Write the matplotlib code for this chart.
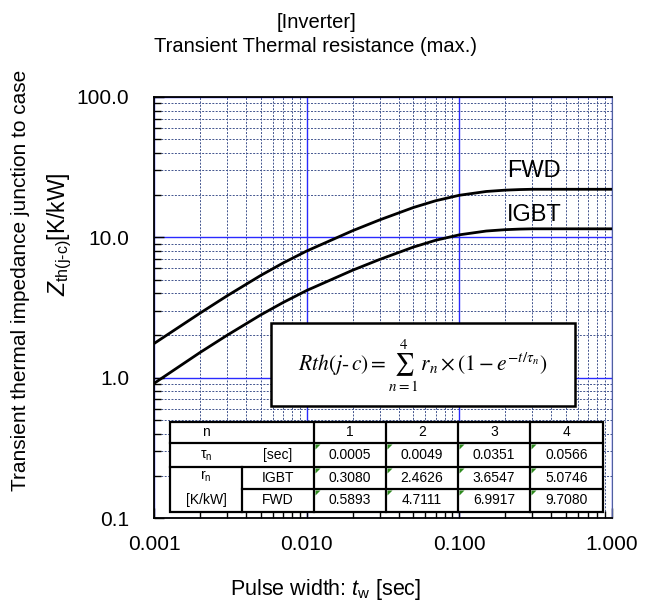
import matplotlib
matplotlib.use("Agg")
import matplotlib.pyplot as plt
from matplotlib.ticker import FixedLocator, LogLocator, FuncFormatter, NullFormatter
from matplotlib.patches import Rectangle, Polygon

plt.rcParams['font.family'] = ['Liberation Sans', 'DejaVu Sans']
plt.rcParams['mathtext.fontset'] = 'custom'
plt.rcParams['mathtext.rm'] = 'Liberation Sans'
plt.rcParams['mathtext.it'] = 'Liberation Sans:italic'

# Kurven
t_sec = [0.001, 0.002, 0.003, 0.005, 0.007, 0.01, 0.02, 0.03, 0.05, 0.07,
         0.1, 0.15, 0.2, 0.25, 0.3, 0.5, 0.7, 1.0]
zth_fwd = [1.75, 2.88, 3.82, 5.35, 6.56, 7.99, 11.15, 13.30, 16.31, 18.23,
           19.94, 21.22, 21.69, 21.9, 22.0, 22.0, 22.0, 22.0]
zth_igbt = [0.91, 1.51, 2.00, 2.80, 3.43, 4.18, 5.83, 6.95, 8.52, 9.53,
            10.42, 11.09, 11.34, 11.45, 11.5, 11.5, 11.5, 11.5]

# Tabelle
n_idx = ["1", "2", "3", "4"]
tau_n = ["0.0005", "0.0049", "0.0351", "0.0566"]
r_igbt = ["0.3080", "2.4626", "3.6547", "5.0746"]
r_fwd = ["0.5893", "4.7111", "6.9917", "9.7080"]

x_ticks = [0.001, 0.01, 0.1, 1.0]
y_ticks = [0.1, 1.0, 10.0, 100.0]

W, H = 646, 612
fig = plt.figure(figsize=(W / 100, H / 100), dpi=100)
ax = fig.add_axes([154 / W, 1 - 518 / H, (612 - 154) / W, (518 - 97) / H])

ax.plot(t_sec, zth_fwd, color='black', lw=2.0, zorder=3)
ax.plot(t_sec, zth_igbt, color='black', lw=2.0, zorder=3)

ax.set_xscale('log')
ax.set_yscale('log')
ax.set_xlim(0.001, 1.0)
ax.set_ylim(0.1, 100.0)

ax.xaxis.set_major_locator(FixedLocator(x_ticks))
ax.yaxis.set_major_locator(FixedLocator(y_ticks))
ax.xaxis.set_minor_locator(LogLocator(base=10, subs=range(2, 10)))
ax.yaxis.set_minor_locator(LogLocator(base=10, subs=range(2, 10)))
ax.xaxis.set_major_formatter(FuncFormatter(lambda v, p: "%.3f" % v))
ax.yaxis.set_major_formatter(FuncFormatter(lambda v, p: "%.1f" % v))
ax.xaxis.set_minor_formatter(NullFormatter())
ax.yaxis.set_minor_formatter(NullFormatter())

ax.grid(which='major', color='#2a2aff', lw=1.0, ls='-')
ax.grid(which='minor', color='#42548e', lw=0.7, ls=(0, (2, 1.5)))
ax.set_axisbelow(True)

ax.tick_params(which='both', direction='in', labelsize=15, colors='black')
ax.tick_params(which='major', length=7, width=1.0)
ax.tick_params(which='minor', length=5, width=1.0)
ax.tick_params(axis='x', pad=12)
ax.tick_params(axis='y', pad=18)

for s in ['left', 'bottom', 'top']:
    ax.spines[s].set_linewidth(1.3)
    ax.spines[s].set_color('black')
ax.spines['right'].set_linewidth(0.8)
ax.spines['right'].set_color('#5060a0')

ax.text(0.205, 26.9, "FWD", fontsize=17, va='baseline', ha='left', zorder=4)
ax.text(0.205, 13.1, "IGBT", fontsize=17, va='baseline', ha='left', zorder=4)

# Titel und Achsenbeschriftungen
fig.text(316 / W, 1 - 23 / H, "[Inverter]", fontsize=14.5, ha='center', va='center')
fig.text(316 / W, 1 - 46 / H, "Transient Thermal resistance (max.)", fontsize=14.5,
         ha='center', va='center')
fig.text(326 / W, 1 - 590 / H, r"Pulse width: $t_{\mathrm{w}}$ [sec]", fontsize=15.5,
         ha='center', va='center')
fig.text(21 / W, 1 - 280 / H, "Transient thermal impedance junction to case",
         fontsize=15, rotation=90, ha='center', va='center')
fig.text(60 / W, 1 - 234 / H, r"$Z_{\mathrm{th(j\text{-}c)}}$[K/kW]",
         fontsize=16.5, rotation=90, ha='center', va='center')

# Overlay in Pixelkoordinaten fuer Formel und Tabelle
ov = fig.add_axes([0, 0, 1, 1], facecolor='none')
ov.set_xlim(0, W)
ov.set_ylim(H, 0)
ov.axis('off')

ov.add_patch(Rectangle((271, 323), 575 - 271, 406 - 323, facecolor='white',
                       edgecolor='black', lw=1.8))
ov.text(423, 366, r"$Rth(j\text{-}\,c) = \sum_{n=1}^{4}\, r_n \times \left(1 - e^{-t/\tau_n}\right)$",
        math_fontfamily='stix', fontsize=15.5, ha='center', va='center')

cols = [170, 242, 314, 386, 458, 530, 603]
rows = [422, 443, 467, 489, 512]
lw_t = 1.6
ov.add_patch(Rectangle((cols[0], rows[0]), cols[-1] - cols[0], rows[-1] - rows[0],
                       facecolor='white', edgecolor='black', lw=lw_t))
for r in rows[1:-1]:
    x0 = cols[1] if r == rows[3] else cols[0]
    ov.plot([x0, cols[-1]], [r, r], color='black', lw=lw_t)
for c in cols[2:-1]:
    ov.plot([c, c], [rows[0], rows[-1]], color='black', lw=lw_t)
ov.plot([cols[1], cols[1]], [rows[2], rows[-1]], color='black', lw=lw_t)

fs = 10
def cy(i):
    return (rows[i] + rows[i + 1]) / 2

ov.text(206, cy(0), "n", fontsize=fs, ha='center', va='center')
ov.text(206, cy(1) + 1, "τ$_\\mathrm{n}$", fontsize=fs, ha='center', va='center')
ov.text(278, cy(1), "[sec]", fontsize=fs, ha='center', va='center')
ov.text(206, 476, "r$_\\mathrm{n}$", fontsize=fs, ha='center', va='center')
ov.text(206, 500, "[K/kW]", fontsize=fs, ha='center', va='center')
ov.text(278, cy(2), "IGBT", fontsize=fs, ha='center', va='center')
ov.text(278, cy(3), "FWD", fontsize=fs, ha='center', va='center')

for j in range(4):
    xc = (cols[j + 2] + cols[j + 3]) / 2
    ov.text(xc, cy(0), n_idx[j], fontsize=fs, ha='center', va='center')
    for i, vals in enumerate([tau_n, r_igbt, r_fwd]):
        ov.text(xc, cy(i + 1), vals[j], fontsize=fs, ha='center', va='center')
        x0, y0 = cols[j + 2] + 1.5, rows[i + 1] + 1.5
        ov.add_patch(Polygon([(x0, y0), (x0 + 5, y0), (x0, y0 + 5)],
                             closed=True, facecolor='#2e8b1e', edgecolor='none'))

fig.savefig("out.png", dpi=100)
